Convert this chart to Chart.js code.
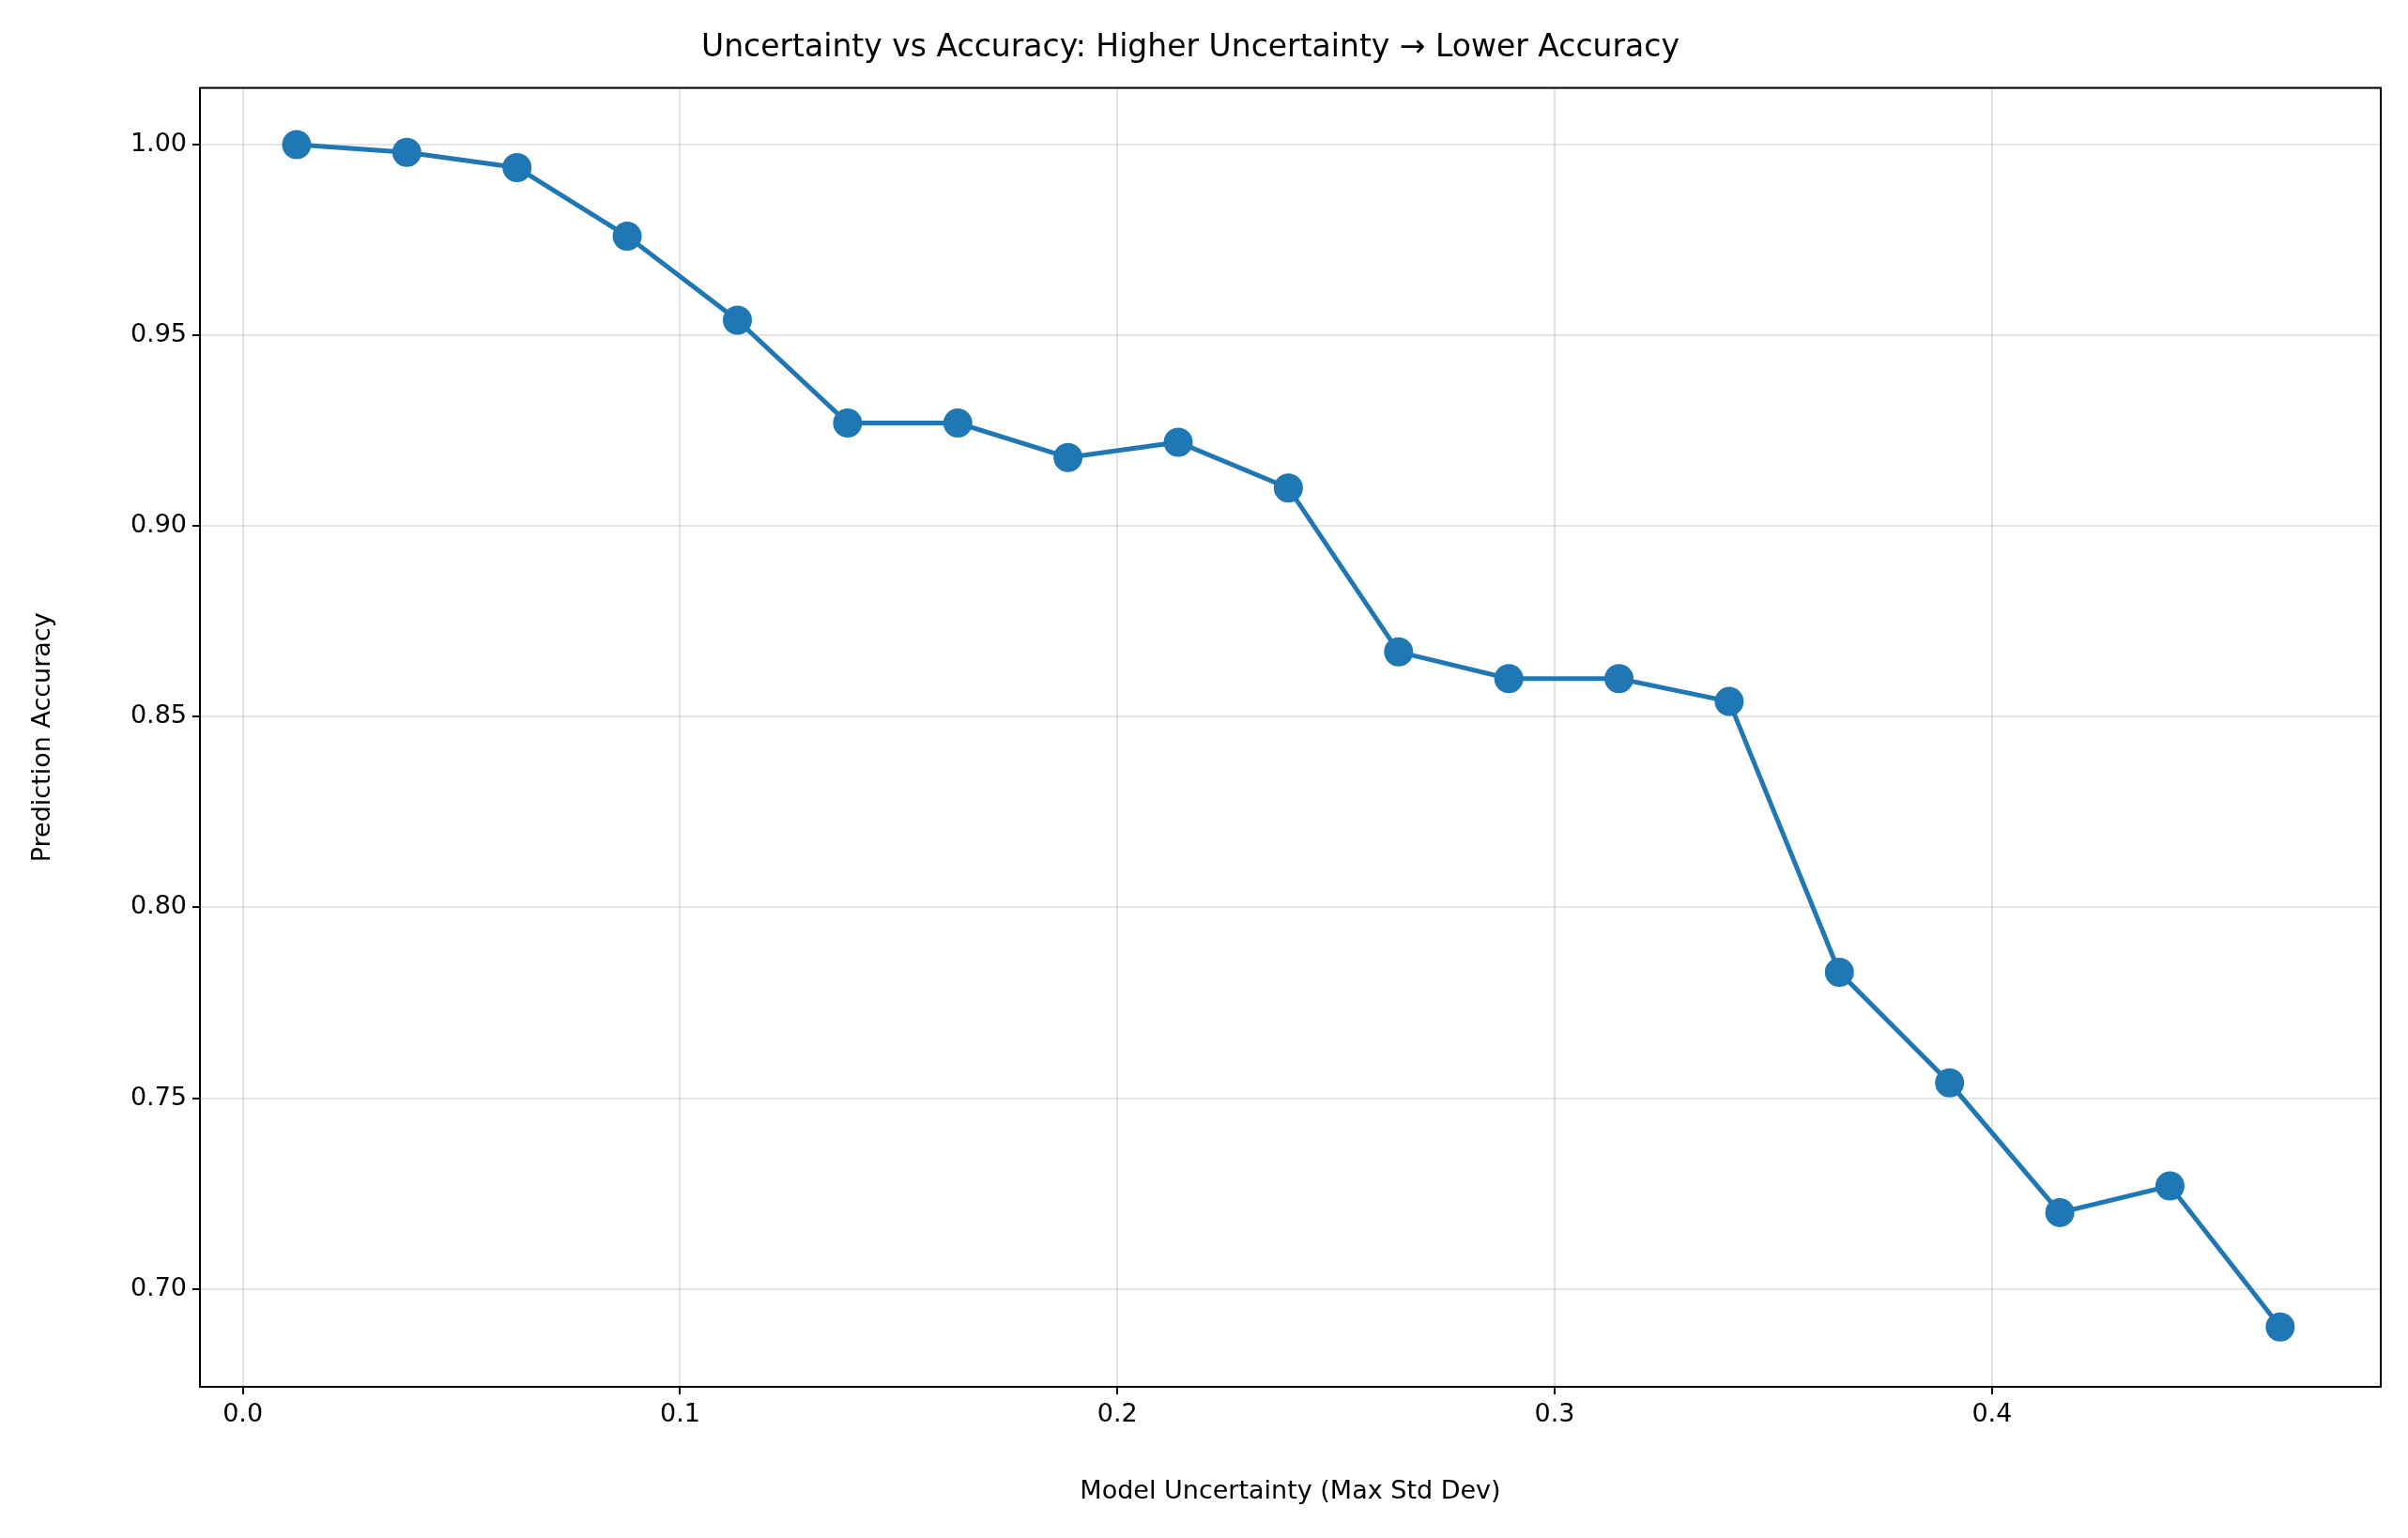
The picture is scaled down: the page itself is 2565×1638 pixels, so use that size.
<!DOCTYPE html>
<html>
<head>
<meta charset="utf-8">
<script src="https://cdn.jsdelivr.net/npm/chart.js@4"></script>
<style>
  html, body { margin: 0; padding: 0; background: #fff; }
  #wrap { width: 2565px; height: 1638px; }
</style>
</head>
<body>
<div id="wrap"><canvas id="chart" width="2565" height="1638"></canvas></div>
<script>
const uncertainty = [0.0123, 0.0375, 0.0627, 0.0879, 0.1131, 0.1383, 0.1635, 0.1887, 0.2139, 0.2391,
  0.2643, 0.2895, 0.3147, 0.3399, 0.3651, 0.3903, 0.4155, 0.4407, 0.4659];
const accuracy = [1.000, 0.998, 0.994, 0.976, 0.954, 0.927, 0.927, 0.918, 0.922, 0.910,
  0.867, 0.860, 0.860, 0.854, 0.783, 0.754, 0.720, 0.727, 0.690];
const xTicks = [0.0, 0.1, 0.2, 0.3, 0.4];
const yTicks = [0.70, 0.75, 0.80, 0.85, 0.90, 0.95, 1.00];

const points = uncertainty.map((x, i) => ({ x, y: accuracy[i] }));
const font = 'DejaVu Sans';

new Chart(document.getElementById('chart').getContext('2d'), {
  type: 'line',
  data: {
    datasets: [{
      data: points,
      borderColor: '#1f77b4',
      backgroundColor: '#1f77b4',
      borderWidth: 5,
      pointRadius: 13,
      pointHoverRadius: 13,
      tension: 0
    }]
  },
  options: {
    responsive: false,
    devicePixelRatio: 1,
    animation: false,
    layout: { padding: { right: 29 } },
    plugins: {
      legend: { display: false },
      tooltip: { enabled: false },
      title: {
        display: true,
        text: 'Uncertainty vs Accuracy: Higher Uncertainty → Lower Accuracy',
        color: '#000',
        font: { family: font, size: 33, weight: 'normal' },
        padding: { top: 32, bottom: 22 }
      }
    },
    scales: {
      x: {
        type: 'linear',
        min: -0.0098,
        max: 0.4889,
        afterBuildTicks: s => { s.ticks = xTicks.map(v => ({ value: v })); },
        afterFit: s => { s.height = 161; },
        ticks: { color: '#000', font: { family: font, size: 27 }, padding: 6,
          callback: v => v.toFixed(1) },
        grid: { color: 'rgba(0,0,0,0.1)', lineWidth: 2, tickLength: 8, tickColor: '#000' },
        border: { color: '#000', width: 2 },
        title: { display: true, text: 'Model Uncertainty (Max Std Dev)', color: '#000',
          font: { family: font, size: 27 }, padding: { top: 0, bottom: 33 } }
      },
      y: {
        min: 0.6743,
        max: 1.0149,
        afterBuildTicks: s => { s.ticks = yTicks.map(v => ({ value: v })); },
        afterFit: s => { s.width = 213; },
        ticks: { color: '#000', font: { family: font, size: 27 }, padding: 6,
          callback: v => v.toFixed(2) },
        grid: { color: 'rgba(0,0,0,0.1)', lineWidth: 2, tickLength: 8, tickColor: '#000' },
        border: { color: '#000', width: 2 },
        title: { display: true, text: 'Prediction Accuracy', color: '#000',
          font: { family: font, size: 27 }, padding: { top: 30, bottom: 0 } }
      }
    }
  },
  plugins: [{
    id: 'frame',
    afterDraw(c) {
      const a = c.chartArea, ctx = c.ctx;
      ctx.save();
      ctx.strokeStyle = '#000';
      ctx.lineWidth = 2;
      ctx.strokeRect(a.left, a.top, a.right - a.left, a.bottom - a.top);
      ctx.restore();
    }
  }]
});
</script>
</body>
</html>
